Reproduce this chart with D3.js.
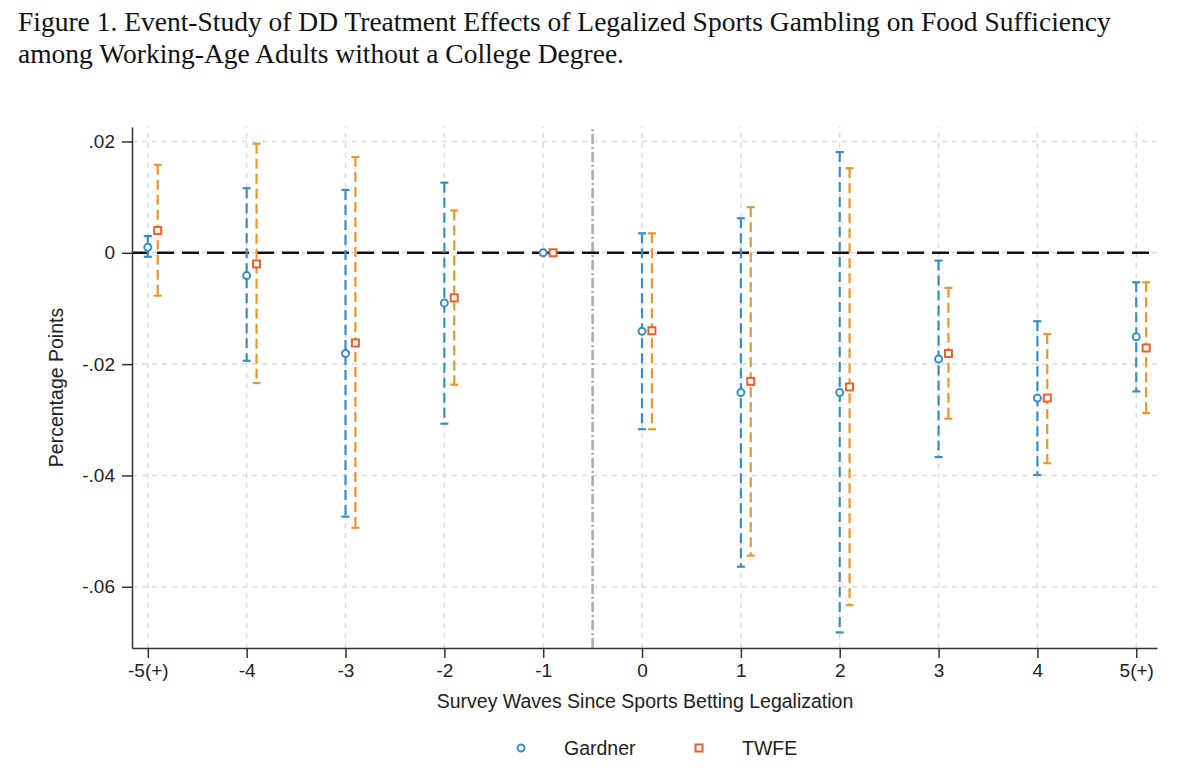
<!DOCTYPE html>
<html>
<head>
<meta charset="utf-8">
<script src="https://cdn.jsdelivr.net/npm/d3@7"></script>
<style>
  body { margin: 0; background: #fff; }
  svg { display: block; }
</style>
</head>
<body>
<div id="chart"></div>
<script>
// event-study estimates
const waves = [-5, -4, -3, -2, -1, 0, 1, 2, 3, 4, 5];
const waveLabels = ["-5(+)", "-4", "-3", "-2", "-1", "0", "1", "2", "3", "4", "5(+)"];

const gardnerEst = [0.001, -0.0041, -0.0181, -0.009, 0, -0.0141, -0.0251, -0.0251, -0.0191, -0.0261, -0.0151];
const gardnerLo = [-0.0007, -0.0194, -0.0474, -0.0307, 0, -0.0317, -0.0564, -0.0682, -0.0367, -0.0399, -0.0249];
const gardnerHi = [0.003, 0.0116, 0.0113, 0.0126, 0, 0.0035, 0.0062, 0.0181, -0.0014, -0.0123, -0.0053];

const twfeEst = [0.004, -0.002, -0.0162, -0.0081, 0, -0.014, -0.0231, -0.0241, -0.0181, -0.0261, -0.0171];
const twfeLo = [-0.0077, -0.0234, -0.0494, -0.0237, 0, -0.0317, -0.0544, -0.0633, -0.0298, -0.0378, -0.0288];
const twfeHi = [0.0158, 0.0196, 0.0172, 0.0076, 0, 0.0035, 0.0082, 0.0152, -0.0063, -0.0146, -0.0053];

const yTicks = [-0.06, -0.04, -0.02, 0, 0.02];
const titleLines = [
    "Figure 1. Event-Study of DD Treatment Effects of Legalized Sports Gambling on Food Sufficiency",
    "among Working-Age Adults without a College Degree."
];

const W = 1200, H = 773;
const blue = "#3b8dc1";
const orange = "#e6982f";
const red = "#e8602c";
const sans = "'Liberation Sans', Arial, sans-serif";

const svg = d3.select("#chart").append("svg")
    .attr("width", W)
    .attr("height", H);

// title
svg.selectAll(".title")
    .data(titleLines)
    .enter()
    .append("text")
    .attr("class", "title")
    .attr("x", 18)
    .attr("y", (d, i) => 31 + i * 32)
    .style("font-family", "'Liberation Serif', 'Times New Roman', serif")
    .style("font-size", "27.5px")
    .style("fill", "#111")
    .text(d => d);

const x = d3.scaleLinear().domain([-5.16, 5.21]).range([132, 1157]);
const y = d3.scaleLinear().domain([-0.071, 0.0226]).range([648, 127]);

const series = [
    { name: "Gardner", est: gardnerEst, lo: gardnerLo, hi: gardnerHi, offset: 0, line: blue, mark: blue, shape: "circle" },
    { name: "TWFE", est: twfeEst, lo: twfeLo, hi: twfeHi, offset: 0.1, line: orange, mark: red, shape: "square" }
];

// gridlines
const grid = svg.append("g");
grid.selectAll(".hgrid")
    .data(yTicks)
    .enter()
    .append("line")
    .attr("x1", x.range()[0]).attr("x2", x.range()[1])
    .attr("y1", d => y(d)).attr("y2", d => y(d))
    .attr("stroke", "#dcdcdc")
    .attr("stroke-width", 1.5)
    .attr("stroke-dasharray", "5,5");
grid.selectAll(".vgrid")
    .data(waves)
    .enter()
    .append("line")
    .attr("x1", d => x(d)).attr("x2", d => x(d))
    .attr("y1", y.range()[0]).attr("y2", y.range()[1])
    .attr("stroke", "#dcdcdc")
    .attr("stroke-width", 1.5)
    .attr("stroke-dasharray", "5,5");

// treatment onset line
svg.append("line")
    .attr("x1", x(-0.5)).attr("x2", x(-0.5))
    .attr("y1", y.range()[0]).attr("y2", y.range()[1])
    .attr("stroke", "#aaaaaa")
    .attr("stroke-width", 2.5)
    .attr("stroke-dasharray", "10,3,2,3");

// zero line
svg.append("line")
    .attr("x1", x.range()[0]).attr("x2", x.range()[1])
    .attr("y1", y(0)).attr("y2", y(0))
    .attr("stroke", "#111")
    .attr("stroke-width", 2.5)
    .attr("stroke-dasharray", "17,8");

// axes
const yAxis = svg.append("g")
    .attr("transform", `translate(${x.range()[0]},0)`)
    .call(d3.axisLeft(y).tickValues(yTicks).tickSize(10).tickSizeOuter(0).tickPadding(7)
        .tickFormat(d => d === 0 ? "0" : d.toFixed(2).replace("0.", ".")));

const xAxis = svg.append("g")
    .attr("transform", `translate(0,${y.range()[0]})`)
    .call(d3.axisBottom(x).tickValues(waves).tickSize(10).tickSizeOuter(0).tickPadding(6)
        .tickFormat((d, i) => waveLabels[i]));

[xAxis, yAxis].forEach(g => {
    g.select(".domain").attr("stroke", "#333").attr("stroke-width", 1.5);
    g.selectAll(".tick line").attr("stroke", "#333").attr("stroke-width", 1.5);
    g.selectAll(".tick text")
        .style("font-family", sans)
        .style("font-size", "19px")
        .style("fill", "#222");
});

// CIs and markers
series.forEach(s => {
    const g = svg.append("g");
    const rows = waves.map((w, i) => ({ w: w + s.offset, est: s.est[i], lo: s.lo[i], hi: s.hi[i] }));
    const ci = rows.filter(d => d.hi > d.lo);

    g.selectAll(".ci")
        .data(ci)
        .enter()
        .append("line")
        .attr("x1", d => x(d.w)).attr("x2", d => x(d.w))
        .attr("y1", d => y(d.hi)).attr("y2", d => y(d.lo))
        .attr("stroke", s.line)
        .attr("stroke-width", 2.2)
        .attr("stroke-dasharray", "10,5");

    ["lo", "hi"].forEach(k => {
        g.selectAll(".cap-" + k)
            .data(ci)
            .enter()
            .append("line")
            .attr("x1", d => x(d.w) - 4).attr("x2", d => x(d.w) + 4)
            .attr("y1", d => y(d[k])).attr("y2", d => y(d[k]))
            .attr("stroke", s.line)
            .attr("stroke-width", 2.2);
    });

    if (s.shape === "circle") {
        g.selectAll(".pt")
            .data(rows)
            .enter()
            .append("circle")
            .attr("cx", d => x(d.w))
            .attr("cy", d => y(d.est))
            .attr("r", 3.5)
            .attr("fill", "#fff")
            .attr("stroke", s.mark)
            .attr("stroke-width", 2);
    } else {
        g.selectAll(".pt")
            .data(rows)
            .enter()
            .append("rect")
            .attr("x", d => x(d.w) - 3.5)
            .attr("y", d => y(d.est) - 3.5)
            .attr("width", 7)
            .attr("height", 7)
            .attr("fill", "#fff")
            .attr("stroke", s.mark)
            .attr("stroke-width", 2);
    }
});

// axis titles
svg.append("text")
    .attr("x", 645)
    .attr("y", 708)
    .attr("text-anchor", "middle")
    .style("font-family", sans)
    .style("font-size", "19.5px")
    .style("fill", "#222")
    .text("Survey Waves Since Sports Betting Legalization");

svg.append("text")
    .attr("transform", `translate(63, ${(y.range()[0] + y.range()[1]) / 2}) rotate(-90)`)
    .attr("text-anchor", "middle")
    .style("font-family", sans)
    .style("font-size", "19.5px")
    .style("fill", "#222")
    .text("Percentage Points");

// legend
const legend = svg.append("g").attr("transform", "translate(0,748)");
const legendX = [521, 699];
series.forEach((s, i) => {
    if (s.shape === "circle") {
        legend.append("circle")
            .attr("cx", legendX[i]).attr("cy", 0).attr("r", 3.5)
            .attr("fill", "#fff").attr("stroke", s.mark).attr("stroke-width", 2);
    } else {
        legend.append("rect")
            .attr("x", legendX[i] - 3.5).attr("y", -3.5).attr("width", 7).attr("height", 7)
            .attr("fill", "#fff").attr("stroke", s.mark).attr("stroke-width", 2);
    }
    legend.append("text")
        .attr("x", legendX[i] + 43)
        .attr("y", 7)
        .style("font-family", sans)
        .style("font-size", "19.5px")
        .style("fill", "#222")
        .text(s.name);
});
</script>
</body>
</html>
